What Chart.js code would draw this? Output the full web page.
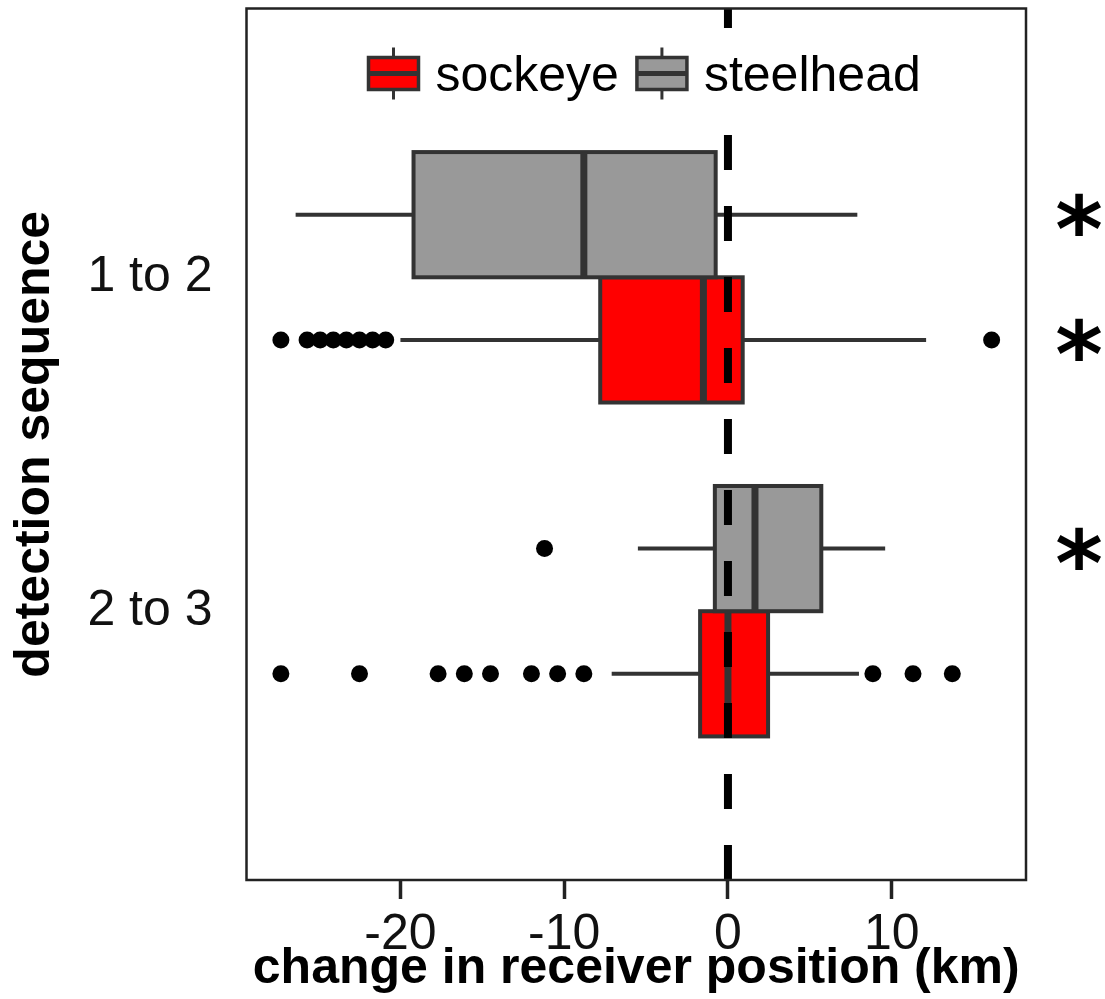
<!DOCTYPE html>
<html>
<head>
<meta charset="utf-8">
<script src="https://cdn.jsdelivr.net/npm/chart.js@4.4.1/dist/chart.umd.min.js"></script>
<style>
  html, body { margin: 0; padding: 0; background: #fff; }
  #wrap { width: 1105px; height: 999px; }
</style>
</head>
<body>
<div id="wrap"><canvas id="chart" width="1105" height="999"></canvas></div>
<script>
// groups on the vertical axis, 1 = "1 to 2", 2 = "2 to 3"
const groups = ['1 to 2', '2 to 3'];
const species = ['sockeye', 'steelhead'];
const speciesColors = ['#ff0000', '#999999'];
const speciesOffset = [0.1875, -0.1875];   // dodge inside a group
const boxHalf = 0.1875;

// [whisker low, q1, median, q3, whisker high] in km
const sockeyeStats = [
  [-20.0, -7.8, -1.5, 0.9, 12.1],
  [-7.1, -1.7, 0.0, 2.45, 8.0]
];
const steelheadStats = [
  [-26.4, -19.2, -8.8, -0.75, 7.9],
  [-5.5, -0.8, 1.65, 5.7, 9.6]
];
const sockeyeOutliers = [
  [-27.3, -25.7, -24.9, -24.1, -23.3, -22.5, -21.7, -20.9, 16.1],
  [-27.3, -22.5, -17.7, -16.1, -14.5, -12.0, -10.4, -8.8, 8.85, 11.3, 13.7]
];
const steelheadOutliers = [
  [],
  [-11.2]
];
// boxes marked with a star: [group index, species index]
const starred = [[0, 1], [0, 0], [1, 1]];

const xTicks = [-20, -10, 0, 10];
const xRange = [-29.4, 18.2];
const yRange = [0.195, 2.805];

const allStats = [sockeyeStats, steelheadStats];
const allOutliers = [sockeyeOutliers, steelheadOutliers];
const FONT = '"Liberation Sans", Arial, sans-serif';
const EDGE = '#333333';

function segment(points) {
  return {
    type: 'scatter', data: points, showLine: true, order: 1,
    borderColor: EDGE, borderWidth: 4, pointRadius: 0, fill: false
  };
}

const datasets = [];
// dashed zero line on top of the boxes
datasets.push({
  type: 'scatter', order: 0, showLine: true, pointRadius: 0,
  data: [{ x: 0, y: yRange[1] }, { x: 0, y: yRange[0] }],
  borderColor: '#000', borderWidth: 8, borderDash: [35, 36], borderCapStyle: 'butt'
});
allStats.forEach((stats, s) => {
  stats.forEach((st, g) => {
    const y = g + 1 + speciesOffset[s];
    datasets.push(segment([{ x: st[0], y }, { x: st[1], y }]));
    datasets.push(segment([{ x: st[3], y }, { x: st[4], y }]));
  });
});
allOutliers.forEach((outs, s) => {
  const pts = [];
  outs.forEach((arr, g) => arr.forEach(v => pts.push({ x: v, y: g + 1 + speciesOffset[s] })));
  datasets.push({
    type: 'scatter', order: 1, data: pts,
    pointRadius: 8.5, pointBackgroundColor: '#000', pointBorderWidth: 0
  });
});

const boxPlugin = {
  id: 'boxes',
  beforeDatasetsDraw(chart) {
    const { ctx, scales: { x, y } } = chart;
    ctx.save();
    allStats.forEach((stats, s) => {
      stats.forEach((st, g) => {
        const c = g + 1 + speciesOffset[s];
        const x1 = x.getPixelForValue(st[1]);
        const x2 = x.getPixelForValue(st[3]);
        const y1 = y.getPixelForValue(c - boxHalf);
        const y2 = y.getPixelForValue(c + boxHalf);
        ctx.fillStyle = speciesColors[s];
        ctx.fillRect(x1, Math.min(y1, y2), x2 - x1, Math.abs(y2 - y1));
        ctx.strokeStyle = EDGE;
        ctx.lineWidth = 4;
        ctx.strokeRect(x1, Math.min(y1, y2), x2 - x1, Math.abs(y2 - y1));
        const xm = x.getPixelForValue(st[2]);
        ctx.lineWidth = 7;
        ctx.beginPath();
        ctx.moveTo(xm, y1);
        ctx.lineTo(xm, y2);
        ctx.stroke();
      });
    });
    ctx.restore();
  },
  afterDraw(chart) {
    const { ctx, chartArea: a, scales: { y } } = chart;
    ctx.save();

    // legend inside the panel, white backing hides the dashed line
    ctx.font = '50px ' + FONT;
    ctx.textBaseline = 'alphabetic';
    let lx = a.left + 122;
    const cy = a.top + 65;
    let total = 0;
    species.forEach(name => { total += 67 + ctx.measureText(name).width + 18; });
    ctx.fillStyle = '#fff';
    ctx.fillRect(lx - 8, cy - 36, total, 74);
    species.forEach((name, s) => {
      ctx.strokeStyle = EDGE;
      ctx.lineWidth = 3;
      ctx.beginPath();
      ctx.moveTo(lx + 25, cy - 26);
      ctx.lineTo(lx + 25, cy + 26);
      ctx.stroke();
      ctx.fillStyle = speciesColors[s];
      ctx.fillRect(lx, cy - 16, 50, 32);
      ctx.lineWidth = 3.5;
      ctx.strokeRect(lx, cy - 16, 50, 32);
      ctx.lineWidth = 5;
      ctx.beginPath();
      ctx.moveTo(lx, cy);
      ctx.lineTo(lx + 50, cy);
      ctx.stroke();
      ctx.fillStyle = '#000';
      ctx.fillText(name, lx + 67, cy + 17);
      lx += 67 + ctx.measureText(name).width + 18;
    });

    // panel frame
    ctx.strokeStyle = '#222';
    ctx.lineWidth = 2.5;
    ctx.strokeRect(a.left, a.top, a.right - a.left, a.bottom - a.top);

    // significance stars to the right of the panel
    ctx.font = 'bold 100px "DejaVu Sans", sans-serif';
    const m = ctx.measureText('*');
    const k = 43 / (m.actualBoundingBoxAscent + m.actualBoundingBoxDescent);
    ctx.font = 'bold ' + Math.round(100 * k) + 'px "DejaVu Sans", sans-serif';
    const m2 = ctx.measureText('*');
    const shift = (m2.actualBoundingBoxAscent - m2.actualBoundingBoxDescent) / 2;
    ctx.textAlign = 'center';
    ctx.fillStyle = '#000';
    starred.forEach(([g, s]) => {
      const py = y.getPixelForValue(g + 1 + speciesOffset[s]);
      ctx.fillText('*', chart.width - 26, py + shift);
    });
    ctx.restore();
  }
};

new Chart(document.getElementById('chart'), {
  type: 'scatter',
  data: { datasets },
  plugins: [boxPlugin],
  options: {
    responsive: false,
    animation: false,
    devicePixelRatio: 1,
    layout: { padding: { top: 7, right: 79, bottom: 0, left: 0 } },
    plugins: { legend: { display: false }, tooltip: { enabled: false } },
    scales: {
      x: {
        type: 'linear', position: 'bottom',
        min: xRange[0], max: xRange[1],
        afterBuildTicks: sc => { sc.ticks = xTicks.map(v => ({ value: v })); },
        afterFit: sc => { sc.height = 119; sc.paddingLeft = 0; sc.paddingRight = 0; },
        grid: { drawOnChartArea: false, drawTicks: true, tickLength: 19, tickWidth: 3.5, tickColor: '#222' },
        border: { display: false },
        ticks: { color: '#111', font: { family: FONT, size: 50 }, padding: 6, maxRotation: 0 },
        title: {
          display: true, text: 'change in receiver position (km)', color: '#000',
          font: { family: FONT, size: 50, weight: 'bold' }, padding: { top: 0, bottom: 0 }
        }
      },
      y: {
        type: 'linear', reverse: true,
        min: yRange[0], max: yRange[1],
        afterBuildTicks: sc => { sc.ticks = groups.map((_, i) => ({ value: i + 1 })); },
        afterFit: sc => { sc.width = 246.5; sc.paddingTop = 0; sc.paddingBottom = 0; },
        grid: { display: false, drawTicks: false },
        border: { display: false },
        ticks: {
          color: '#111', font: { family: FONT, size: 50 }, padding: 34,
          callback: v => groups[v - 1]
        },
        title: {
          display: true, text: 'detection sequence', color: '#000',
          font: { family: FONT, size: 50, weight: 'bold' }, padding: { top: 5, bottom: 0 }
        }
      }
    }
  }
});
</script>
</body>
</html>
